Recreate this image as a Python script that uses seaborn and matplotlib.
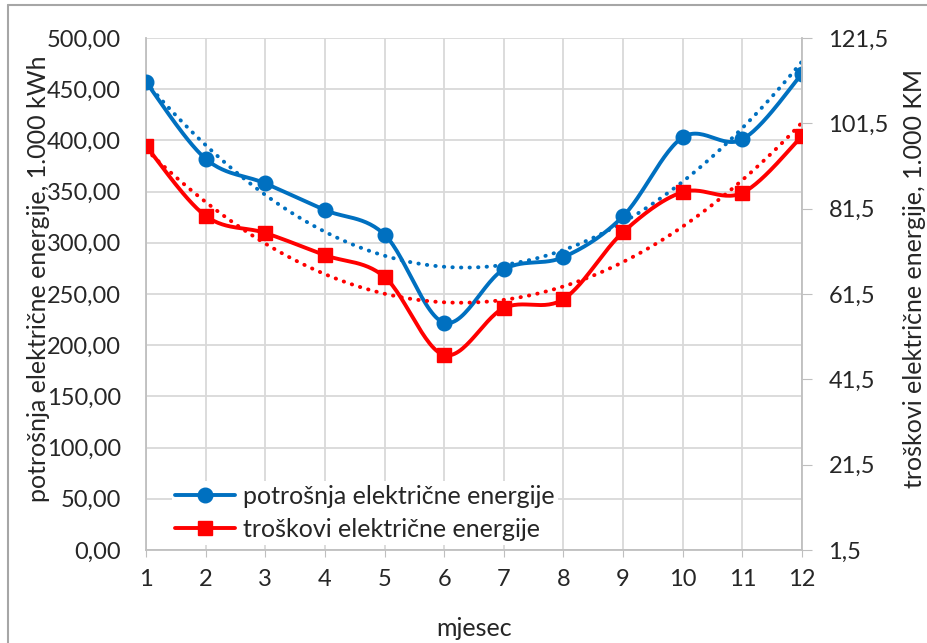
import matplotlib
matplotlib.use("Agg")
import matplotlib.pyplot as plt
import numpy as np
import seaborn as sns
from matplotlib.lines import Line2D

# data
months = [1, 2, 3, 4, 5, 6, 7, 8, 9, 10, 11, 12]
potrosnja = [457, 382, 358, 332, 308, 222, 274, 286, 326, 403, 401, 465]
troskovi = [96.2, 79.8, 75.8, 70.6, 65.5, 47.2, 58.2, 60.3, 76.0, 85.4, 85.2, 98.5]

left_ticks = [0, 50, 100, 150, 200, 250, 300, 350, 400, 450, 500]
right_ticks = [1.5, 21.5, 41.5, 61.5, 81.5, 101.5, 121.5]

label_left = "potrošnja električne energije, 1.000 kWh"
label_right = "troškovi električne energije, 1.000 KM"
label_x = "mjesec"
legend_labels = ["potrošnja električne energije", "troškovi električne energije"]

blue = "#0070C0"
red = "#FF0000"
grid_c = "#d9d9d9"
axis_c = "#bfbfbf"


def smooth(x, y, n=30):
    # excel-like smoothed line (bezier through the points)
    p = np.column_stack([x, y]).astype(float)
    out = []
    for i in range(len(p) - 1):
        p0 = p[i - 1] if i > 0 else p[i]
        p1, p2 = p[i], p[i + 1]
        p3 = p[i + 2] if i + 2 < len(p) else p[i + 1]
        c1 = p1 + (p2 - p0) / 6
        c2 = p2 - (p3 - p1) / 6
        t = np.linspace(0, 1, n)[:, None]
        seg = (1 - t) ** 3 * p1 + 3 * (1 - t) ** 2 * t * c1 + 3 * (1 - t) * t ** 2 * c2 + t ** 3 * p2
        out.append(seg if i == 0 else seg[1:])
    s = np.vstack(out)
    return s[:, 0], s[:, 1]


sns.set_style("white")
plt.rcParams['font.family'] = ['Lato', 'DejaVu Sans']

fig = plt.figure(figsize=(9.28, 6.43), dpi=100)
ax = fig.add_axes([146/928, 1 - 550/643, 656/928, 512/643])
ax2 = ax.twinx()

# smoothed data lines
bx, by = smooth(months, potrosnja)
sns.lineplot(x=bx, y=by, ax=ax, color=blue, lw=2.8, sort=False, zorder=3)
ax.plot(months, potrosnja, 'o', color=blue, ms=10.5, zorder=4)
sns.regplot(x=months, y=potrosnja, order=2, ci=None, scatter=False, ax=ax,
            line_kws=dict(color=blue, lw=2.8, ls=(0, (0.1, 2.1)), dash_capstyle='round', zorder=2))

rx, ry = smooth(months, troskovi)
sns.lineplot(x=rx, y=ry, ax=ax2, color=red, lw=2.8, sort=False, zorder=3)
ax2.plot(months, troskovi, 's', color=red, ms=10.5, zorder=4)
sns.regplot(x=months, y=troskovi, order=2, ci=None, scatter=False, ax=ax2,
            line_kws=dict(color=red, lw=2.8, ls=(0, (0.1, 2.1)), dash_capstyle='round', zorder=2))

ax.set_xlim(1, 12)
ax.set_ylim(0, 500)
ax2.set_ylim(1.5, 121.5)
ax.set_xticks(months)
ax.set_xticklabels([str(m) for m in months])
ax.set_yticks(left_ticks)
ax.set_yticklabels([f"{v:.2f}".replace('.', ',') for v in left_ticks])
ax2.set_yticks(right_ticks)
ax2.set_yticklabels([f"{v:.1f}".replace('.', ',') for v in right_ticks])

ax.grid(True, color=grid_c, lw=1.3)
ax.set_axisbelow(True)
for a in (ax, ax2):
    for s in a.spines.values():
        s.set_visible(False)
ax.spines['bottom'].set_visible(True)
ax.spines['bottom'].set_color(axis_c)
ax.spines['bottom'].set_linewidth(1.3)
ax.spines['left'].set_visible(True)
ax.spines['left'].set_color(axis_c)
ax.spines['left'].set_linewidth(1.3)
ax2.spines['right'].set_visible(True)
ax2.spines['right'].set_color(axis_c)
ax2.spines['right'].set_linewidth(1.3)

ax.tick_params(axis='x', length=5, color=axis_c, pad=9, labelsize=17, bottom=True)
ax.tick_params(axis='y', length=0, pad=18, labelsize=17)
ax2.tick_params(axis='y', length=7, color=axis_c, pad=12, labelsize=17, right=True)

ax.set_xlabel(label_x, fontsize=18, labelpad=19)
ax.set_ylabel(label_left, fontsize=18)
ax.yaxis.set_label_coords(-0.147, 0.53)
ax2.set_ylabel(label_right, fontsize=18, rotation=90)
ax2.yaxis.set_label_coords(1.154, 0.53)

handles = [Line2D([], [], color=blue, lw=2.8, marker='o', ms=10.5),
           Line2D([], [], color=red, lw=2.8, marker='s', ms=10.5)]
leg = ax2.legend(handles, legend_labels, loc='lower left', bbox_to_anchor=(0.02, -0.014),
                 frameon=True, fontsize=18, handlelength=2.4, handletextpad=0.3,
                 borderpad=0.15, labelspacing=0.4, framealpha=1)
leg.get_frame().set_edgecolor('none')
leg.get_frame().set_facecolor('white')

# outer chart border (left and top only visible in the reference)
fig.add_artist(Line2D([8/928, 8/928], [0, 1 - 5/643], transform=fig.transFigure, color='#a6a6a6', lw=1.5))
fig.add_artist(Line2D([8/928, 1], [1 - 5/643, 1 - 5/643], transform=fig.transFigure, color='#a6a6a6', lw=1.5))

fig.savefig("out.png", dpi=100)
